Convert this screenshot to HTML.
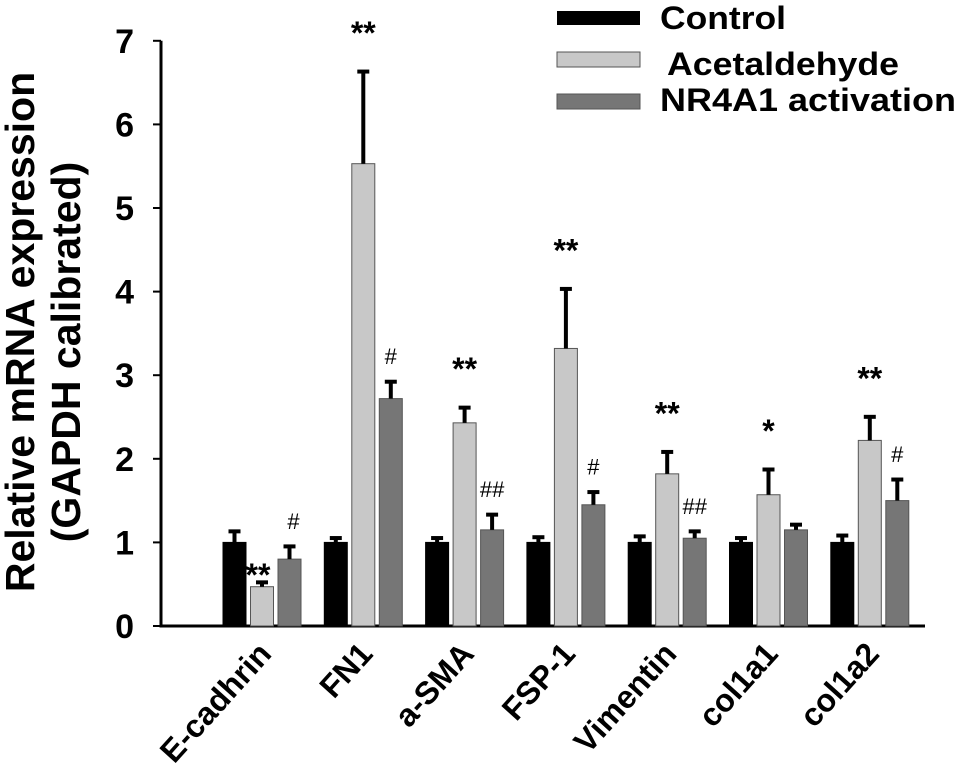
<!DOCTYPE html>
<html><head><meta charset="utf-8"><style>
body{margin:0;background:#fff;}
svg{display:block;font-family:"Liberation Sans",Arial,sans-serif;font-weight:bold;}
</style></head><body>
<svg id="chart" width="975" height="778" viewBox="0 0 975 778">
<g id="axes"></g><g id="bars"></g><g id="labels"></g>
<g>
 <rect x="557" y="11" width="83" height="14" fill="#000"/>
 <text x="660" y="29" font-size="32" textLength="126" lengthAdjust="spacingAndGlyphs">Control</text>
 <rect x="557" y="52" width="83" height="15" fill="#c8c8c8" stroke="#555"/>
 <text x="667" y="75" font-size="32" textLength="232" lengthAdjust="spacingAndGlyphs">Acetaldehyde</text>
 <rect x="557" y="94" width="83" height="15" fill="#767676" stroke="#555"/>
 <text x="660" y="111" font-size="32" textLength="296" lengthAdjust="spacingAndGlyphs">NR4A1 activation</text>
</g>
<g font-size="41">
 <text transform="translate(34,332) rotate(-90)" text-anchor="middle">Relative mRNA expression</text>
 <text transform="translate(80,352) rotate(-90)" text-anchor="middle">(GAPDH calibrated)</text>
</g>
</svg>
<script>
const categories=["E-cadhrin","FN1","a-SMA","FSP-1","Vimentin","col1a1","col1a2"];
const controlVals=[1.0,1.0,1.0,1.0,1.0,1.0,1.0];
const controlErr=[0.15,0.07,0.07,0.08,0.09,0.07,0.1];
const acetVals=[0.47,5.53,2.43,3.32,1.82,1.57,2.22];
const acetErr=[0.07,1.12,0.2,0.73,0.28,0.32,0.3];
const nrVals=[0.8,2.72,1.15,1.45,1.05,1.15,1.5];
const nrErr=[0.17,0.22,0.2,0.17,0.1,0.08,0.27];
const acetMarks=["**","**","**","**","**","*","**"];
const nrMarks=["#","#","##","#","##","",  "#"];
const yTicks=[0,1,2,3,4,5,6,7];

const NS="http://www.w3.org/2000/svg";
const base=626, unit=83.6, x0=223, step=101.3, bw=23, bstep=27.5;
function y(v){return base-v*unit;}
function gx(i){return x0+i*step;}
function mk(tag,attrs,parent,txt){const e=document.createElementNS(NS,tag);for(const k in attrs)e.setAttribute(k,attrs[k]);if(txt!==undefined)e.textContent=txt;parent.appendChild(e);return e;}
const axes=document.getElementById('axes'),bars=document.getElementById('bars'),labels=document.getElementById('labels');
let e=mk('line',{x1:161,y1:y(7),x2:161,y2:base+1,stroke:'#000','stroke-width':3},axes);


e=mk('line',{x1:159.5,y1:base,x2:925,y2:base,stroke:'#000','stroke-width':3},axes);


yTicks.forEach(t=>{
 let l=mk('line',{x1:153,y1:y(t),x2:161,y2:y(t),stroke:'#000','stroke-width':2},axes);
 
 
 let tx=mk('text',{x:134,y:y(t)+12,'text-anchor':'end','font-size':34},axes,String(t));
 
 
});
const series=[[controlVals,controlErr,'#000','#000','control'],[acetVals,acetErr,'#c8c8c8','#555','acetaldehyde'],[nrVals,nrErr,'#767676','#555','nr4a1']];
categories.forEach((c,i)=>{
 series.forEach((s,j)=>{
  const bx=gx(i)+j*bstep, v=s[0][i], er=s[1][i], cx=bx+bw/2;
  let r=mk('rect',{x:bx,y:y(v),width:bw,height:base-y(v),fill:s[2],stroke:s[3],'stroke-width':1},bars);
  
  
  let el=mk('line',{x1:cx,y1:y(v),x2:cx,y2:y(v+er),stroke:'#000','stroke-width':4},bars);
  
  
  let cap=mk('line',{x1:cx-6,y1:y(v+er)+1.5,x2:cx+6,y2:y(v+er)+1.5,stroke:'#000','stroke-width':4},bars);
  
  
 });
 const ax=gx(i)+bstep+bw/2, atop=y(acetVals[i]+acetErr[i]);
 const aTx = i===0 ? ax-4 : ax;
 let a=mk('text',{x:aTx,y:i===0?atop+5:atop-26,'text-anchor':'middle','font-size':32},labels,acetMarks[i]);
 
 
 if(nrMarks[i]){
  const nx=gx(i)+2*bstep+bw/2+(i===0?4:0), ntop=y(nrVals[i]+nrErr[i]);
  let n=mk('text',{x:nx,y:ntop-16,'text-anchor':'middle','font-size':22,'font-weight':'normal'},labels,nrMarks[i]);
  
  
 }
 let xl=mk('text',{transform:`translate(${gx(i)+50},655) rotate(-48)`,'text-anchor':'end','font-size':32},labels,c);
 
 
});
</script>
</body></html>
